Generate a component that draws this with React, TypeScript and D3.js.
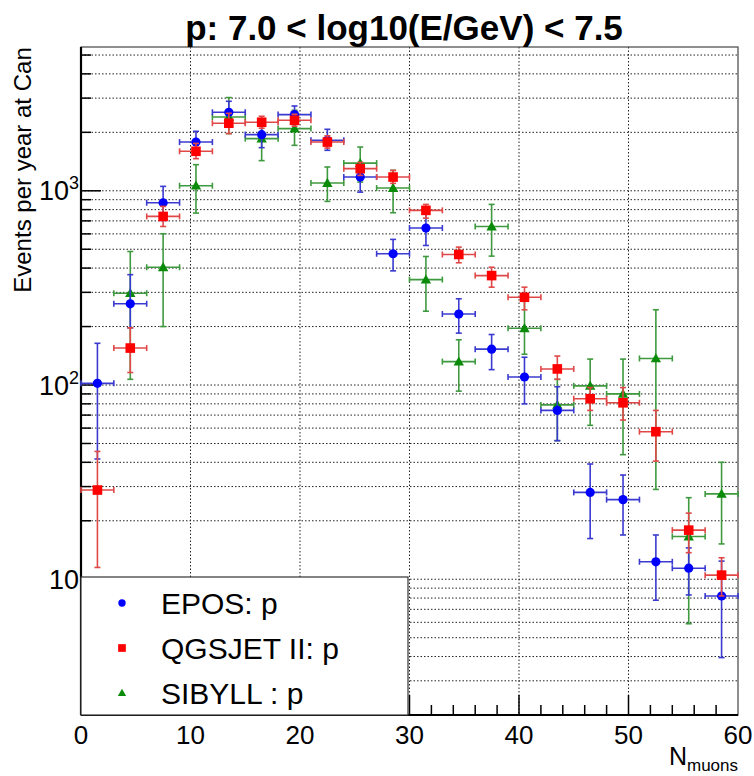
import React from 'react';
import * as d3 from 'd3';

const W = 754;
const H = 776;

const binCenters = [1.5, 4.5, 7.5, 10.5, 13.5, 16.5, 19.5, 22.5, 25.5, 28.5, 31.5, 34.5, 37.5, 40.5, 43.5, 46.5, 49.5, 52.5, 55.5, 58.5];
const binHalfWidth = 1.5;

const eposVal = [102, 262, 868, 1782, 2537, 1946, 2468, 1819, 1177, 474, 643, 232, 153, 110, 74, 28, 25.7, 12.3, 11.4, 8.2];
const eposLo = [41.6, 197, 704, 1578, 2200, 1668, 2200, 1616, 984, 387, 523, 185, 120, 80, 51.7, 16.2, 16.9, 7.8, 8.3, 3.95];
const eposHi = [164, 370, 1054, 2024, 2890, 2280, 2733, 2073, 1360, 562, 760, 278, 182, 139, 98, 39.2, 34.4, 16.9, 14.5, 12.4];

const qgsVal = [28.8, 155, 738, 1597, 2228, 2254, 2306, 1782, 1300, 1177, 793, 470, 366, 283, 121, 85, 81, 57.5, 17.9, 10.5];
const qgsLo = [11.5, 116, 655, 1464, 1970, 2100, 2150, 1660, 1200, 1092, 723, 426, 319, 244, 107, 74, 66, 40.6, 13.7, 8.2];
const qgsHi = [45.5, 197, 831, 1754, 2506, 2420, 2480, 1920, 1400, 1274, 851, 513, 404, 319, 141, 97, 97, 74, 21.9, 12.9];

const sibVal = [null, 297, 404, 1062, 2399, 1856, 2090, 1096, 1389, 1033, 349, 132, 655, 196, 79, 99, 90, 137, 16.6, 27.5];
const sibLo = [null, 107, 200, 768, 1970, 1430, 1714, 882, 1109, 771, 240, 93, 461, 144, 51.7, 62, 43.8, 29, 5.9, 15.2];
const sibHi = [null, 487, 601, 1363, 3020, 2306, 2597, 1326, 1680, 1274, 459, 171, 851, 272, 107, 136, 136, 244, 26.3, 40];

const xTicks = [0, 10, 20, 30, 40, 50, 60];
const yMajorTicks = [10, 100, 1000];
const yTickExp = ['', '2', '3'];

const titleText = 'p: 7.0 < log10(E/GeV) < 7.5';
const yTitle = 'Events per year at Can';
const legendNames = ['EPOS: p', 'QGSJET II: p', 'SIBYLL : p'];

const FONT = "'Liberation Sans', Arial, Helvetica, sans-serif";

const x = d3.scaleLinear().domain([0, 60]).range([81, 738]);
const y = d3.scaleLog().domain([2, 5500]).range([715, 47]);

type Series = {
  name: string;
  val: (number | null)[];
  lo: (number | null)[];
  hi: (number | null)[];
  marker: 'circle' | 'square' | 'triangle';
  color: string;
  errColor: string;
};

const series: Series[] = [
  { name: legendNames[2], val: sibVal, lo: sibLo, hi: sibHi, marker: 'triangle', color: '#0a8c0a', errColor: '#3f9a3f' },
  { name: legendNames[0], val: eposVal, lo: eposLo, hi: eposHi, marker: 'circle', color: '#0000ff', errColor: '#3a3ad0' },
  { name: legendNames[1], val: qgsVal, lo: qgsLo, hi: qgsHi, marker: 'square', color: '#ff0000', errColor: '#e04848' },
];

function Marker({ type, cx, cy, color, s = 1 }: { type: string; cx: number; cy: number; color: string; s?: number }) {
  if (type === 'circle') return <circle cx={cx} cy={cy} r={4.6 * s} fill={color} />;
  if (type === 'square') return <rect x={cx - 4.8 * s} y={cy - 4.8 * s} width={9.6 * s} height={9.6 * s} fill={color} />;
  const a = 5.2 * s;
  return <path d={`M${cx},${cy - a}L${cx + a},${cy + a * 0.75}L${cx - a},${cy + a * 0.75}Z`} fill={color} />;
}

export default function App() {
  const yGrid: number[] = [];
  for (let k = 0; k <= 3; k++) {
    for (let m = 1; m <= 9; m++) {
      const v = m * Math.pow(10, k);
      if (v > 2 && v < 5500) yGrid.push(v);
    }
  }
  const xMinor: number[] = [];
  for (let v = 2; v < 60; v += 2) if (v % 10 !== 0) xMinor.push(v);

  const left = x(0), right = x(60), top = y(5500), bottom = y(2);

  return (
    <svg width={W} height={H} style={{ position: 'absolute', left: 0, top: 0, background: '#fff' }} fontFamily={FONT}>
      <rect x={0} y={0} width={W} height={H} fill="#fff" />
      <g stroke="#222" strokeWidth={1} strokeDasharray="1.5,2">
        {yGrid.map((v) => (
          <line key={'gy' + v} x1={left} x2={right} y1={y(v)} y2={y(v)} />
        ))}
        {xTicks.slice(1, -1).map((v) => (
          <line key={'gx' + v} x1={x(v)} x2={x(v)} y1={top} y2={bottom} />
        ))}
      </g>
      <rect x={left} y={top} width={right - left} height={bottom - top} fill="none" stroke="#444" strokeWidth={1.2} />
      <g stroke="#000" strokeWidth={1.5}>
        {yGrid.map((v) => {
          const major = yMajorTicks.includes(v);
          return <line key={'ty' + v} x1={left} x2={left + (major ? 20 : 10)} y1={y(v)} y2={y(v)} />;
        })}
        {xTicks.slice(1, -1).map((v) => (
          <line key={'tx' + v} x1={x(v)} x2={x(v)} y1={bottom} y2={bottom - 20} />
        ))}
        {xMinor.map((v) => (
          <line key={'txm' + v} x1={x(v)} x2={x(v)} y1={bottom} y2={bottom - 10} />
        ))}
        <line x1={left} x2={left} y1={top} y2={bottom} strokeWidth={2.2} />
        <line x1={left} x2={right} y1={bottom} y2={bottom} strokeWidth={2} />
      </g>
      {series.map((s) => (
        <g key={s.name}>
          <g stroke={s.errColor} strokeWidth={1.6}>
            {binCenters.map((c, i) => {
              const v = s.val[i];
              if (v == null) return null;
              const cx = x(c), cy = y(v);
              const x0 = x(c - binHalfWidth), x1 = x(c + binHalfWidth);
              const y0 = y(s.lo[i] as number), y1 = y(s.hi[i] as number);
              return (
                <g key={i}>
                  <line x1={x0} x2={x1} y1={cy} y2={cy} />
                  <line x1={x0} x2={x0} y1={cy - 3} y2={cy + 3} />
                  <line x1={x1} x2={x1} y1={cy - 3} y2={cy + 3} />
                  <line x1={cx} x2={cx} y1={y0} y2={y1} />
                  <line x1={cx - 3} x2={cx + 3} y1={y0} y2={y0} />
                  <line x1={cx - 3} x2={cx + 3} y1={y1} y2={y1} />
                </g>
              );
            })}
          </g>
          {binCenters.map((c, i) => {
            const v = s.val[i];
            if (v == null) return null;
            return <Marker key={'m' + i} type={s.marker} cx={x(c)} cy={y(v)} color={s.color} />;
          })}
        </g>
      ))}
      <rect x={left} y={577} width={408 - left} height={bottom - 577} fill="#fff" stroke="#333" strokeWidth={1.2} />
      {[series[1], series[2], series[0]].map((s, i) => {
        const cy = 603 + i * 45;
        return (
          <g key={'lg' + i}>
            <Marker type={s.marker} cx={122} cy={cy} color={s.color} s={0.8} />
            <text x={161} y={cy + 11} fontSize={30} fill="#000">
              {s.name}
            </text>
          </g>
        );
      })}
      {xTicks.map((v) => (
        <text key={'xl' + v} x={x(v)} y={744} fontSize={26} textAnchor="middle" fill="#000">
          {String(v)}
        </text>
      ))}
      {yMajorTicks.map((v, i) => (
        <text key={'yl' + v} x={79} y={y(v) + 9.5} fontSize={27} textAnchor="end" fill="#000">
          {yTickExp[i] ? (
            <>
              <tspan>10</tspan>
              <tspan fontSize={18} dy={-11}>{yTickExp[i]}</tspan>
            </>
          ) : (
            '10'
          )}
        </text>
      ))}
      <text x={738} y={765} fontSize={25} textAnchor="end" fill="#000">
        <tspan>N</tspan>
        <tspan fontSize={17} dy={6}>muons</tspan>
      </text>
      <text transform={`translate(31,170) rotate(-90)`} fontSize={24} textAnchor="middle" fill="#000">
        {yTitle}
      </text>
      <text x={404} y={40} fontSize={35} fontWeight="bold" textAnchor="middle" fill="#000">
        {titleText}
      </text>
    </svg>
  );
}
